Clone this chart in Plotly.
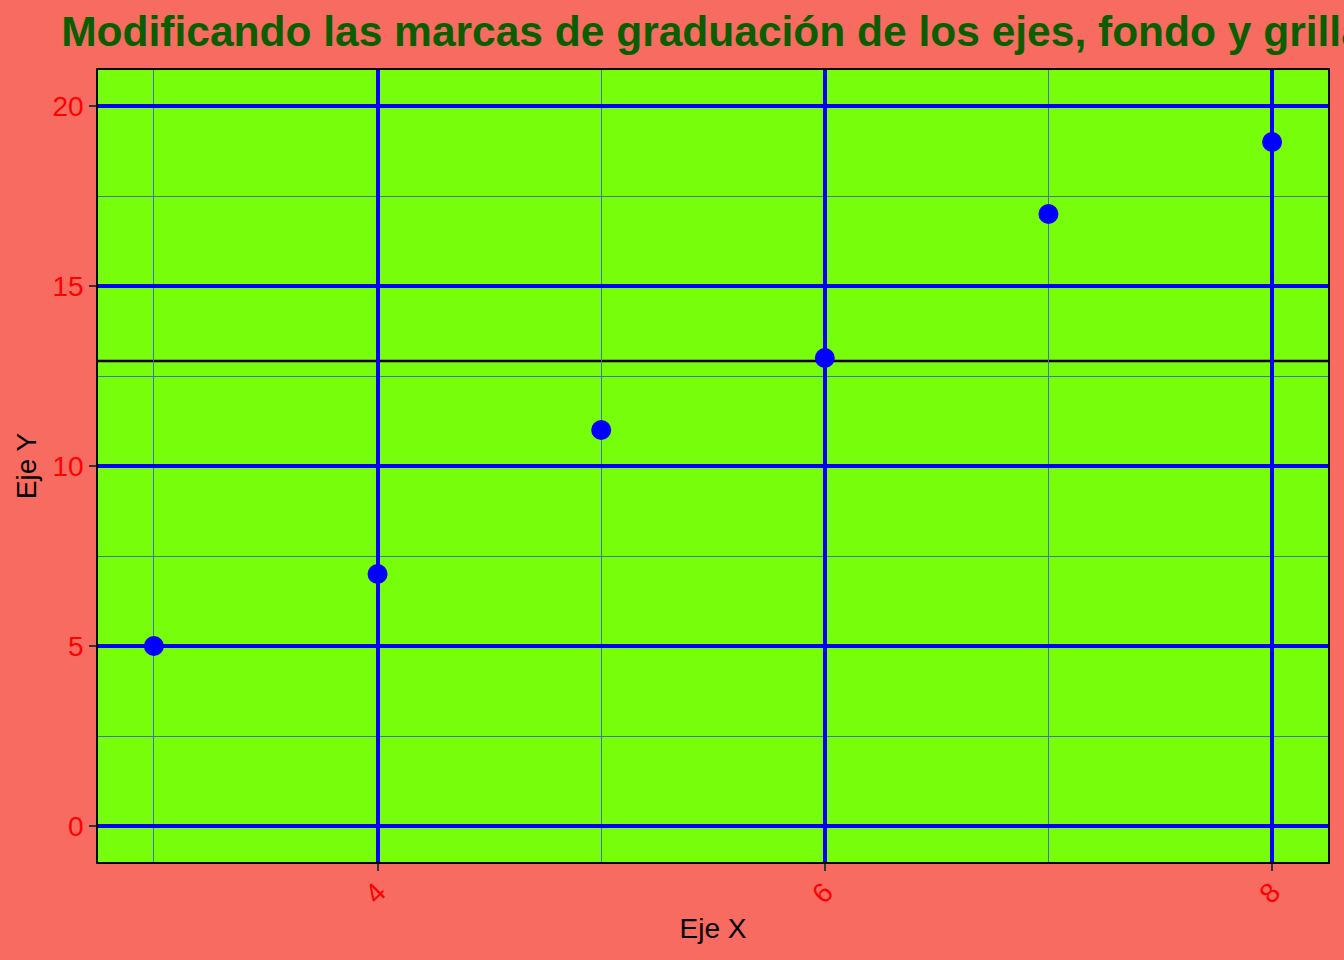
import plotly.graph_objects as go

x_vals = [3, 4, 5, 6, 7, 8]
y_vals = [5, 7, 11, 13, 17, 19]
hline_y = 12.92
title_text = "Modificando las marcas de graduación de los ejes, fondo y grilla"
x_label = "Eje X"
y_label = "Eje Y"

fig = go.Figure()
fig.add_trace(go.Scatter(x=x_vals, y=y_vals, mode="markers",
                         marker=dict(color="blue", size=20), showlegend=False))

fig.add_shape(type="line", xref="paper", x0=0, x1=1, yref="y", y0=hline_y, y1=hline_y,
              line=dict(color="black", width=2.5), layer="between")

fig.update_layout(
    width=1344, height=960,
    paper_bgcolor="#F76B61",
    plot_bgcolor="#76FE0A",
    margin=dict(l=98, r=16, t=70, b=98),
    font=dict(family="Liberation Sans, Arial, sans-serif", color="black", size=24),
    title=dict(text="<b>" + title_text + "</b>", x=0.5, xref="paper", xanchor="center",
               y=1 - 31 / 960, yref="container", yanchor="middle",
               font=dict(size=42.5, color="#0B5E00", family="Liberation Sans, Arial, sans-serif")),
    xaxis=dict(range=[2.75, 8.25], tick0=0, dtick=2,
               showgrid=True, gridcolor="blue", gridwidth=4,
               minor=dict(dtick=1, tick0=0, showgrid=True, gridcolor="#4676A8", gridwidth=1.4, ticks=""),
               zeroline=False, showline=True, mirror=True, linecolor="black", linewidth=1.5,
               ticks="outside", ticklen=7, tickwidth=2, tickcolor="#333333",
               tickangle=-45, tickfont=dict(color="red", size=28), ticklabelstandoff=-6,
               title=dict(text=x_label, font=dict(size=28, color="black"), standoff=10)),
    yaxis=dict(range=[-1, 21], tick0=0, dtick=5,
               showgrid=True, gridcolor="blue", gridwidth=4,
               minor=dict(dtick=2.5, tick0=0, showgrid=True, gridcolor="#4676A8", gridwidth=1.4, ticks=""),
               zeroline=False, showline=True, mirror=True, linecolor="black", linewidth=1.5,
               ticks="outside", ticklen=7, tickwidth=2, tickcolor="#333333",
               tickfont=dict(color="red", size=28),
               title=dict(text=y_label, font=dict(size=28, color="black"), standoff=8)),
)

fig.write_html("out.html", config={"displayModeBar": False},
               post_script="document.body.style.margin='0px';")
